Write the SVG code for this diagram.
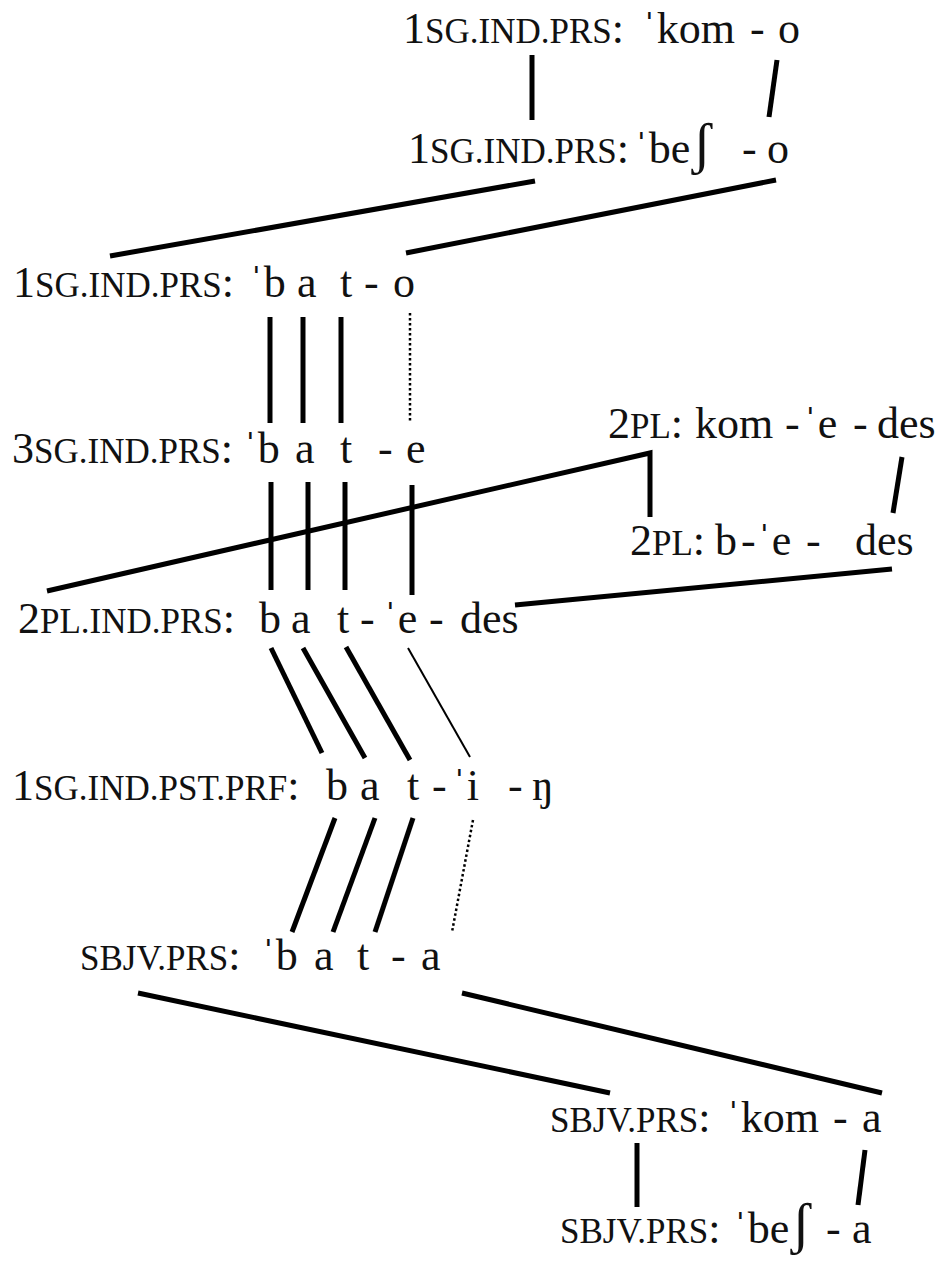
<svg xmlns="http://www.w3.org/2000/svg" width="949" height="1261" viewBox="0 0 949 1261">
<style>
text{font-family:"Liberation Serif","Times New Roman","DejaVu Serif",serif;font-size:44px;fill:#111}
.sc{font-size:35px}
.sh{font-size:58px}
.ln{stroke:#000;stroke-width:5;fill:none;stroke-linecap:butt}
.thin{stroke:#000;stroke-width:2;fill:none}
.dot{stroke:#000;stroke-width:2.5;fill:none;stroke-dasharray:2.5 2.5}
</style>
<rect width="949" height="1261" fill="#fff"/>
<g id="n1"><text x="403" y="43">1<tspan class="sc">SG.IND.PRS</tspan>:<tspan x="642">ˈkom</tspan><tspan x="750">-</tspan><tspan x="778">o</tspan></text></g>
<g id="n2"><text x="408" y="163">1<tspan class="sc">SG.IND.PRS</tspan>:<tspan x="634">ˈbe<tspan class="sh" dx="2">ʃ</tspan></tspan><tspan x="742">-</tspan><tspan x="767">o</tspan></text></g>
<g id="n3"><text x="13" y="297">1<tspan class="sc">SG.IND.PRS</tspan>:<tspan x="249">ˈb</tspan><tspan x="297">a</tspan><tspan x="340">t</tspan><tspan x="364">-</tspan><tspan x="393">o</tspan></text></g>
<g id="n4"><text x="12" y="463">3<tspan class="sc">SG.IND.PRS</tspan>:<tspan x="243">ˈb</tspan><tspan x="295">a</tspan><tspan x="340">t</tspan><tspan x="378">-</tspan><tspan x="406">e</tspan></text></g>
<g id="n5"><text x="608" y="438">2<tspan class="sc">PL</tspan>:<tspan x="695">kom</tspan><tspan x="785">-</tspan><tspan x="803">ˈe</tspan><tspan x="853">-</tspan><tspan x="877">des</tspan></text></g>
<g id="n6"><text x="630" y="555">2<tspan class="sc">PL</tspan>:<tspan x="715">b</tspan><tspan x="741">-</tspan><tspan x="757">ˈe</tspan><tspan x="806">-</tspan><tspan x="855">des</tspan></text></g>
<g id="n7"><text x="18" y="633">2<tspan class="sc">PL.IND.PRS</tspan>:<tspan x="259">b</tspan><tspan x="291">a</tspan><tspan x="337">t</tspan><tspan x="360">-</tspan><tspan x="383">ˈe</tspan><tspan x="429">-</tspan><tspan x="460">des</tspan></text></g>
<g id="n8"><text x="12" y="800">1<tspan class="sc">SG.IND.PST.PRF</tspan>:<tspan x="326">b</tspan><tspan x="360">a</tspan><tspan x="407">t</tspan><tspan x="432">-</tspan><tspan x="452">ˈi</tspan><tspan x="508">-</tspan><tspan x="532">ŋ</tspan></text></g>
<g id="n9"><text x="80" y="970"><tspan class="sc">SBJV.PRS</tspan>:<tspan x="261">ˈb</tspan><tspan x="314">a</tspan><tspan x="357">t</tspan><tspan x="391">-</tspan><tspan x="421">a</tspan></text></g>
<g id="n10"><text x="550" y="1132"><tspan class="sc">SBJV.PRS</tspan>:<tspan x="726">ˈkom</tspan><tspan x="833">-</tspan><tspan x="862">a</tspan></text></g>
<g id="n11"><text x="560" y="1243"><tspan class="sc">SBJV.PRS</tspan>:<tspan x="733">ˈbe<tspan class="sh" dx="2">ʃ</tspan></tspan><tspan x="826">-</tspan><tspan x="852">a</tspan></text></g>
<g id="connectors">
<line class="ln" x1="532" y1="55" x2="532" y2="120"/>
<line class="ln" x1="777" y1="60" x2="769" y2="117"/>
<line class="ln" x1="535" y1="181" x2="110" y2="256"/>
<line class="ln" x1="776" y1="180" x2="406" y2="253"/>
<line class="ln" x1="270" y1="317" x2="270" y2="423"/>
<line class="ln" x1="303" y1="317" x2="303" y2="423"/>
<line class="ln" x1="341" y1="317" x2="341" y2="423"/>
<line class="dot" x1="410" y1="313" x2="410" y2="423"/>
<line class="ln" x1="271" y1="482" x2="271" y2="590"/>
<line class="ln" x1="308" y1="482" x2="308" y2="590"/>
<line class="ln" x1="345" y1="482" x2="345" y2="590"/>
<line class="ln" x1="412" y1="485" x2="412" y2="595"/>
<polyline class="ln" points="47,591 650,453 650,517"/>
<line class="ln" x1="902" y1="457" x2="893" y2="513"/>
<line class="ln" x1="892" y1="569" x2="515" y2="605"/>
<line class="ln" x1="271" y1="648" x2="322" y2="753"/>
<line class="ln" x1="303" y1="648" x2="365" y2="758"/>
<line class="ln" x1="346" y1="647" x2="410" y2="760"/>
<line class="thin" x1="408" y1="648" x2="470" y2="757"/>
<line class="ln" x1="335" y1="818" x2="292" y2="932"/>
<line class="ln" x1="375" y1="818" x2="333" y2="932"/>
<line class="ln" x1="413" y1="818" x2="375" y2="932"/>
<line class="dot" x1="473" y1="820" x2="452" y2="932"/>
<line class="ln" x1="138" y1="993" x2="610" y2="1093"/>
<line class="ln" x1="462" y1="993" x2="882" y2="1093"/>
<line class="ln" x1="637" y1="1143" x2="637" y2="1207"/>
<line class="ln" x1="865" y1="1150" x2="858" y2="1205"/>
</g>
</svg>
